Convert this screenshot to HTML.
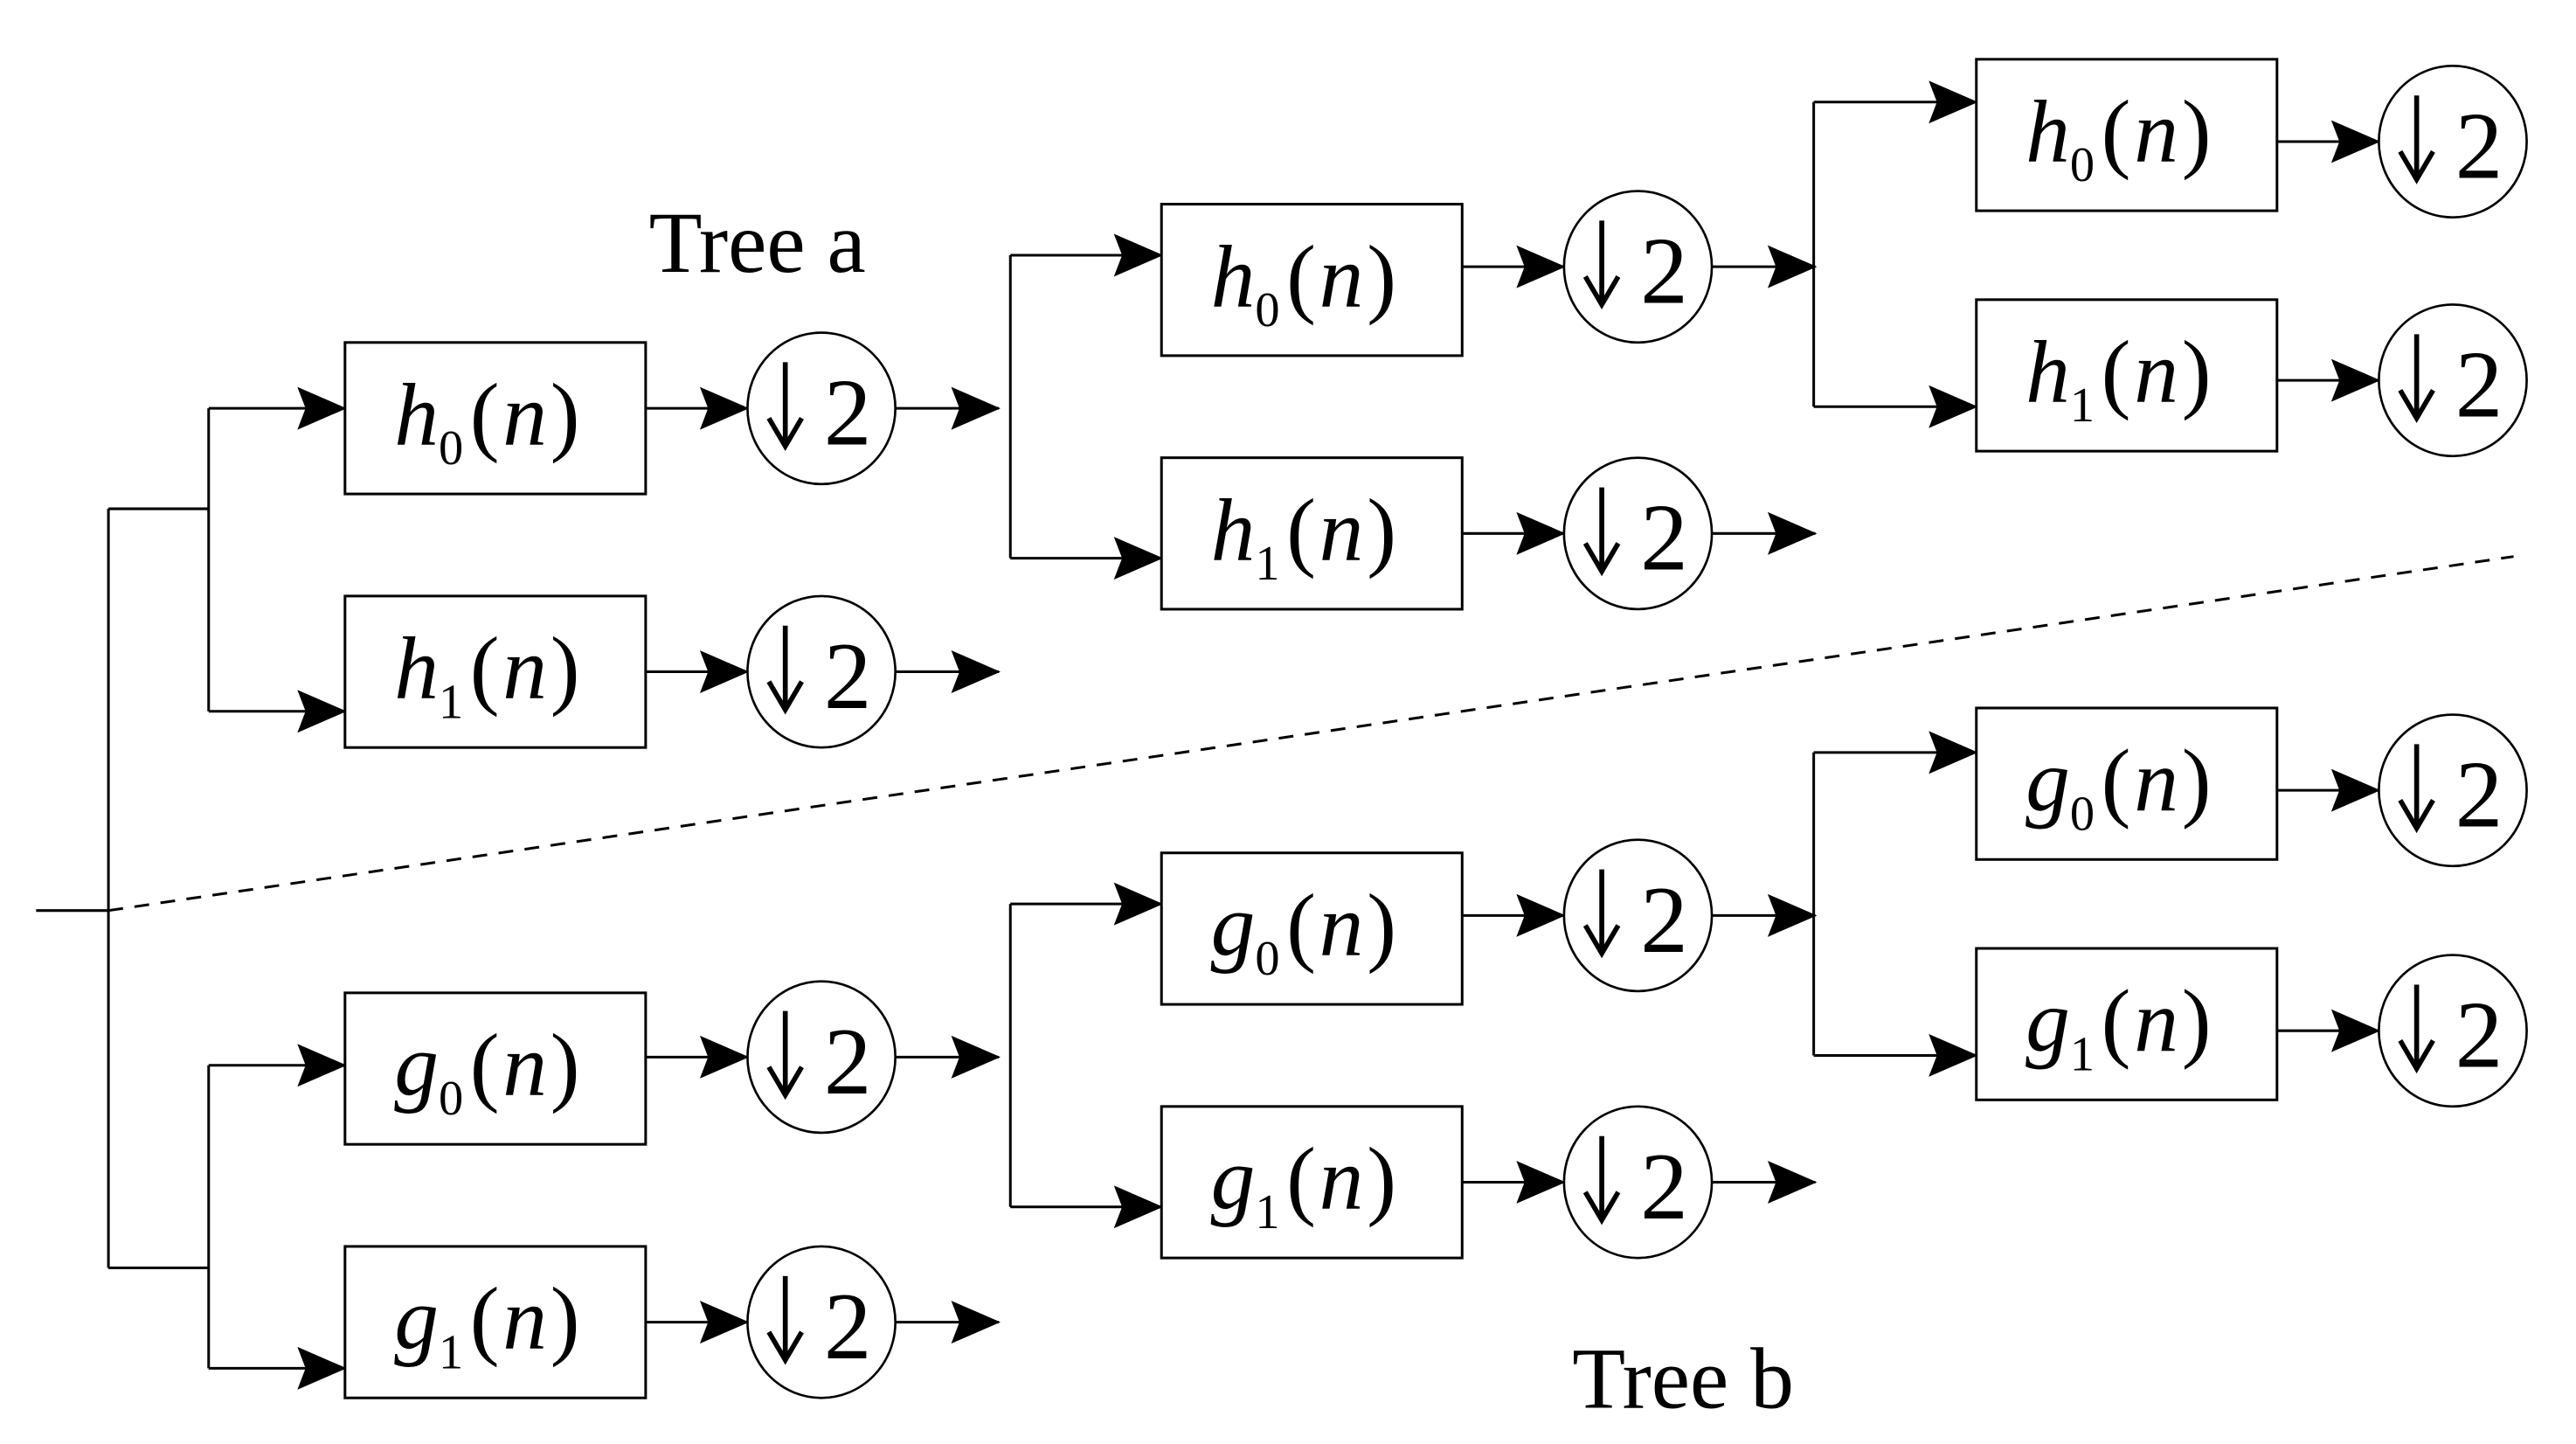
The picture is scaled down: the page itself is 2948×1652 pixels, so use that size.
<!DOCTYPE html>
<html><head><meta charset="utf-8"><style>html,body{margin:0;padding:0;background:#fff}svg{display:block}text{font-family:"Liberation Serif",serif}</style></head>
<body>
<svg width="2948" height="1652" viewBox="0 0 1568 877" preserveAspectRatio="none" xmlns="http://www.w3.org/2000/svg">
<defs>
<marker id="a" markerWidth="30" markerHeight="26" refX="29" refY="13" orient="auto" markerUnits="userSpaceOnUse">
<path d="M0,0 L30,13 L0,26 L5,13 Z" fill="#000"/></marker>
</defs>
<g stroke="#000" stroke-width="1.6" fill="none">
<path d="M22,553 H66 M66,309 V770 M66,309 H127 M66,770 H127"/>
<path d="M66,553 L1530,338" stroke-dasharray="9,7"/>
</g>
<g id="lines" stroke="#000" stroke-width="1.6" fill="none"></g>
<g fill="#000">
<text x="395" y="165" font-size="53">Tree a</text>
<text x="957" y="855" font-size="53">Tree b</text>
</g>
<g id="blocks"></g>
<script>
const NS="http://www.w3.org/2000/svg";
const L=document.getElementById('lines'),B=document.getElementById('blocks');
function el(p,tag,attrs,txt){const e=document.createElementNS(NS,tag);for(const k in attrs)e.setAttribute(k,attrs[k]);if(txt!==undefined)e.textContent=txt;p.appendChild(e);return e;}
function line(d,arrow){el(L,'path',Object.assign({d:d},arrow?{'marker-end':'url(#a)'}:{}));}
function block(bx,by,cy,letter,sub,cx,outArrow){
 el(B,'rect',{x:bx,y:by,width:183,height:92,fill:'#fff',stroke:'#000','stroke-width':1.6});
 const t=el(B,'text',{x:bx+30,y:by+62,'font-size':54});
 el(t,'tspan',{'font-style':'italic'},letter);
 el(t,'tspan',{'font-size':30,dy:12},sub);
 el(t,'tspan',{dy:-12,dx:4},'(');
 el(t,'tspan',{'font-style':'italic',dx:2},'n');
 el(t,'tspan',{dx:2},')');
 line(`M${bx+183},${cy} H${cx-45}`,true);
 el(B,'ellipse',{cx:cx,cy:cy,rx:45,ry:46,fill:'none',stroke:'#000','stroke-width':1.4});
 el(B,'path',{d:`M${cx-22},${cy-28} V${cy+22} M${cx-32},${cy+6} L${cx-22},${cy+23} L${cx-12},${cy+6}`,fill:'none',stroke:'#000','stroke-width':3});
 el(B,'text',{x:cx+16,y:cy+22,'text-anchor':'middle','font-size':58},'2');
 if(outArrow) line(`M${cx+45},${cy} H${cx+108}`,true);
}
function branch(x,y1,y2,bx){line(`M${x},${y1} V${y2}`);line(`M${x},${y1} H${bx}`,true);line(`M${x},${y2} H${bx}`,true);}
branch(127,248,432,210);
block(210,208,248,'h','0',500,true);
block(210,362,408,'h','1',500,true);
branch(615,155,339,707);
block(707,124,162,'h','0',997,true);
block(707,278,324,'h','1',997,true);
branch(1104,62,247,1203);
block(1203,36,86,'h','0',1493,false);
block(1203,182,231,'h','1',1493,false);
branch(127,647,831,210);
block(210,603,642,'g','0',500,true);
block(210,757,803,'g','1',500,true);
branch(615,549,733,707);
block(707,518,556,'g','0',997,true);
block(707,672,718,'g','1',997,true);
branch(1104,457,641,1203);
block(1203,430,480,'g','0',1493,false);
block(1203,576,626,'g','1',1493,false);
</script>
</svg>
</body></html>
